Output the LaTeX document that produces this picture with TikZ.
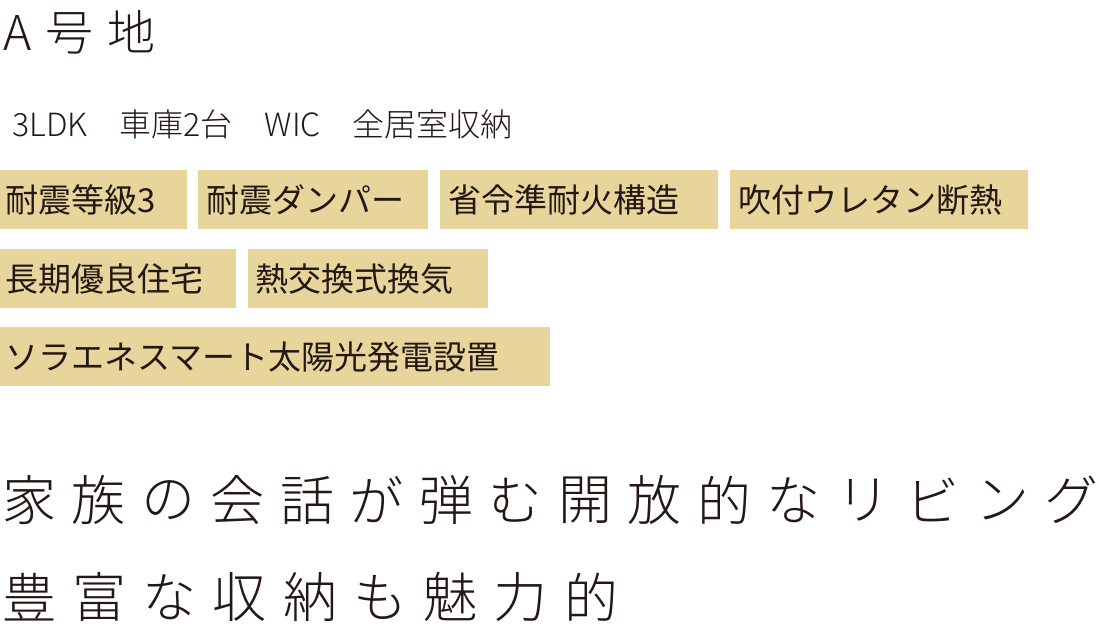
\documentclass[tikz,border=0pt]{standalone}
\usepackage{fontspec}
\setmainfont{Noto Sans CJK JP}
\newfontfamily\lt{Noto Sans CJK JP Light}
\definecolor{tagc}{HTML}{E8D59B}
\definecolor{ink}{HTML}{231815}
\begin{document}
\begin{tikzpicture}[x=1pt,y=-1pt,
  tagbg/.style={fill=tagc,draw=none},
  tag/.style={inner sep=0pt,anchor=west,font=\fontsize{33}{33}\selectfont,text=ink},
  ch/.style={inner sep=0pt,font=\lt\fontsize{54}{54}\selectfont,text=ink}]
\useasboundingbox (0,0) rectangle (1100,634);
\node[inner sep=0pt,anchor=west,font=\lt\fontsize{48}{48}\selectfont,text=ink] (title) at (3,32) {A\hspace{14pt}号\hspace{14pt}地};
\node[inner sep=0pt,anchor=west,font=\lt\fontsize{32}{32}\selectfont,text=ink] (spec) at (12,124) {3LDK\hspace{32pt}車庫2台\hspace{32pt}WIC\hspace{32pt}全居室収納};
\fill[tagbg] (0,170) rectangle (187,229);
\fill[tagbg] (198,170) rectangle (428,229);
\fill[tagbg] (440,170) rectangle (718,229);
\fill[tagbg] (730,170) rectangle (1028,229);
\fill[tagbg] (0,249) rectangle (236,308);
\fill[tagbg] (248,249) rectangle (488,308);
\fill[tagbg] (0,327) rectangle (550,386);
\node[tag] (t1) at (5,200) {耐震等級3};
\node[tag] (t2) at (206,200) {耐震ダンパー};
\node[tag] (t3) at (448,200) {省令準耐火構造};
\node[tag] (t4) at (738,200) {吹付ウレタン断熱};
\node[tag] (t5) at (5,279) {長期優良住宅};
\node[tag] (t6) at (255,279) {熱交換式換気};
\node[tag] (t7) at (5,357) {ソラエネスマート太陽光発電設置};
\foreach \c [count=\i from 0] in {家,族,の,会,話,が,弾,む,開,放,的,な,リ,ビ,ン,グ}
  \node[ch] (a\i) at (29+\i*69.5,500) {\c};
\foreach \c [count=\i from 0] in {豊,富,な,収,納,も,魅,力,的}
  \node[ch] (b\i) at (29+\i*70.25,597) {\c};
\end{tikzpicture}
\end{document}
